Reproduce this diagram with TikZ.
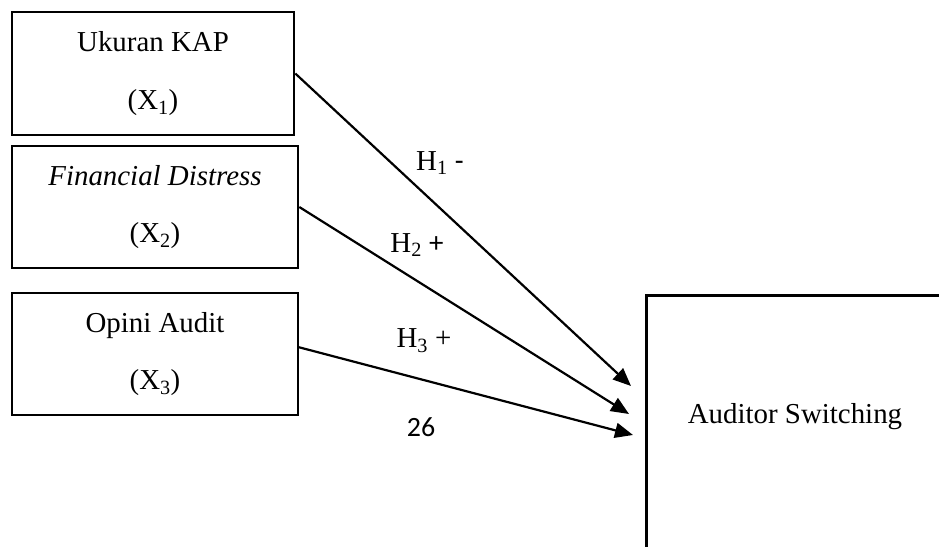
\documentclass[tikz,border=0pt]{standalone}
\usepackage{fontspec}
\setmainfont{Liberation Serif}
\newfontfamily\calibri{Carlito}
\usetikzlibrary{arrows.meta,calc}
\begin{document}
\begin{tikzpicture}[x=1bp,y=-1bp,
  varbox/.style={draw,line width=2.6bp,minimum width=#1,align=center,inner sep=0pt,
     font=\fontsize{29}{58}\selectfont},
  link/.style={line width=2.2bp,-{Triangle[length=18bp,width=15bp]}},
  hyp/.style={font=\fontsize{29}{34}\selectfont,inner sep=0pt}]
\useasboundingbox (0,0) rectangle (939,547);
\clip (0,0) rectangle (939,547);
\node[varbox=282bp,minimum height=123bp] (b1) at (153,73.5) {Ukuran KAP\\(X\textsubscript{1})};
\node[varbox=286bp,minimum height=122bp] (b2) at (155,207) {\textit{Financial Distress}\\(X\textsubscript{2})};
\node[varbox=286bp,minimum height=122bp] (b3) at (155,354) {Opini Audit\\(X\textsubscript{3})};
\node[draw,line width=2.6bp,minimum width=320bp,minimum height=300bp,anchor=north west] (dep) at (645,294) {};
\node[font=\fontsize{29}{34}\selectfont,inner sep=0pt] (deplabel) at (795,417) {Auditor Switching};
\coordinate (t1) at (631,386);
\coordinate (t2) at (629,414);
\coordinate (t3) at (633,435);
\coordinate (s3) at (298,347);
\draw[link] (b1.east) -- (t1);
\draw[link] (b2.east) -- (t2);
\draw[link] (s3) -- (t3);
\node[hyp] (h1) at (440,163) {H\textsubscript{1} {\calibri -}};
\node[hyp] (h2) at (417,245) {H\textsubscript{2} {\calibri +}};
\node[hyp] (h3) at (424,341) {H\textsubscript{3} +};
\node[hyp,font=\calibri\fontsize{28}{32}\selectfont] (pg) at (421,427) {26};
\end{tikzpicture}
\end{document}
